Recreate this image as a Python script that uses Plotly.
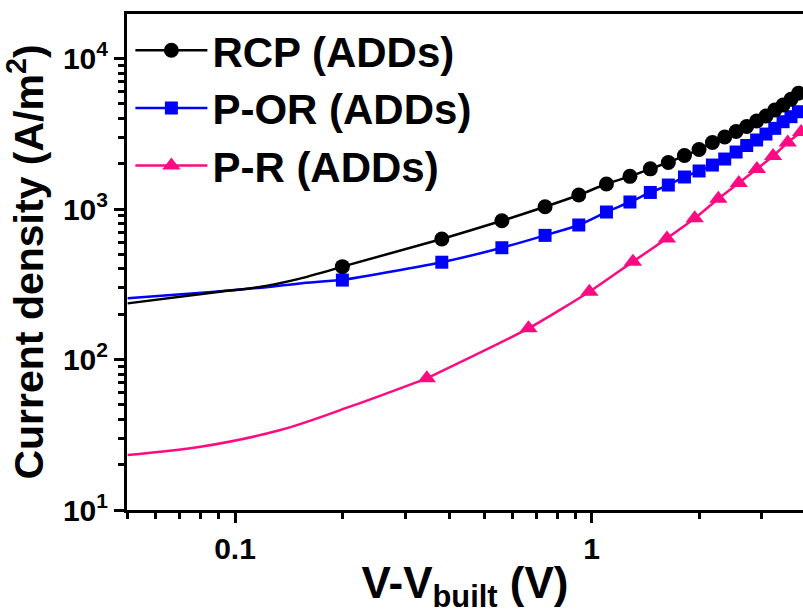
import plotly.graph_objects as go

# ---- data ----
rcp_lead_x = [0.05, 0.086, 0.116, 0.150, 0.2]
rcp_lead_y = [236, 278, 302, 342, 414]
rcp_x = [0.2, 0.38, 0.56, 0.74, 0.92, 1.10, 1.28, 1.46, 1.64, 1.82, 2.00,
         2.18, 2.36, 2.54, 2.72, 2.90, 3.08, 3.26, 3.44, 3.62, 3.80]
rcp_y = [414, 632, 835, 1035, 1239, 1466, 1648, 1849, 2037, 2265, 2484,
         2767, 3007, 3272, 3532, 3843, 4150, 4548, 4911, 5357, 5871]

por_lead_x = [0.05, 0.086, 0.116, 0.150, 0.2]
por_lead_y = [255, 281, 299, 319, 337]
por_x = rcp_x
por_y = [337, 443, 553, 668, 783, 955, 1113, 1288, 1443, 1632, 1789,
         1959, 2148, 2391, 2643, 2874, 3148, 3435, 3802, 4105, 4430]

pr_lead_x = [0.05, 0.08, 0.134, 0.21, 0.345]
pr_lead_y = [23.2, 26.3, 34.0, 48.6, 75]
pr_x = [0.345, 0.665, 0.985, 1.305, 1.625, 1.945, 2.265, 2.585, 2.905,
        3.225, 3.545, 3.865]
pr_y = [75, 161, 282, 447, 638, 867, 1170, 1489, 1845, 2249, 2767, 3250]

series_names = ["RCP (ADDs)", "P-OR (ADDs)", "P-R (ADDs)"]

x_major = [0.1, 1]
x_major_text = ["0.1", "1"]
x_minor = [0.05, 0.06, 0.07, 0.08, 0.09, 0.2, 0.3, 0.4, 0.5, 0.6, 0.7, 0.8, 0.9, 2, 3]
y_major = [10, 100, 1000, 10000]
y_major_text = ["10<sup>1</sup>", "10<sup>2</sup>", "10<sup>3</sup>", "10<sup>4</sup>"]
y_minor = [m * d for d in (10, 100, 1000) for m in range(2, 10)]

BLACK = "#000000"
BLUE = "#0000FF"
PINK = "#FF0A80"
FONT = "Liberation Sans, Arial, sans-serif"

fig = go.Figure()

specs = [
    (pr_lead_x, pr_lead_y, pr_x, pr_y, PINK, "triangle-up", 16, series_names[2], 3),
    (por_lead_x, por_lead_y, por_x, por_y, BLUE, "square", 13, series_names[1], 2),
    (rcp_lead_x, rcp_lead_y, rcp_x, rcp_y, BLACK, "circle", 15, series_names[0], 1),
]
for lx, ly, mx, my, col, sym, sz, name, rank in specs:
    fig.add_trace(go.Scatter(x=lx, y=ly, mode="lines",
                             line=dict(color=col, width=2.5, shape="spline", smoothing=1),
                             showlegend=False, hoverinfo="skip"))
    fig.add_trace(go.Scatter(x=mx, y=my, mode="lines+markers", name=name, legendrank=rank,
                             line=dict(color=col, width=2.5, shape="spline", smoothing=0.6),
                             marker=dict(symbol=sym, size=sz, color=col)))

axis_common = dict(
    type="log", showgrid=False, zeroline=False, showline=True,
    linecolor="black", linewidth=3, ticks="outside", ticklen=10, tickwidth=2.5,
    tickcolor="black",
    tickfont=dict(family=FONT, size=30, color="black", weight="bold"),
)

fig.update_layout(
    width=803, height=614,
    margin=dict(l=127, r=0, t=14, b=104),
    paper_bgcolor="white", plot_bgcolor="white",
    font=dict(family=FONT, color="black", weight="bold"),
    xaxis=dict(
        **axis_common, range=[-1.3028, 0.5924], mirror=True,
        tickmode="array", tickvals=x_major, ticktext=x_major_text,
        minor=dict(tickmode="array", tickvals=x_minor, ticks="outside", ticklen=6,
                   tickwidth=2.5, tickcolor="black", showgrid=False),
        title=dict(text="V-V<sub>built</sub> (V)",
                   font=dict(family=FONT, size=44, color="black", weight="bold"),
                   standoff=10),
    ),
    yaxis=dict(
        **axis_common, range=[1, 4.2957], mirror=False,
        tickmode="array", tickvals=y_major, ticktext=y_major_text,
        minor=dict(tickmode="array", tickvals=y_minor, ticks="outside", ticklen=6,
                   tickwidth=2.5, tickcolor="black", showgrid=False),
        title=dict(text="Current density (A/m<sup>2</sup>)",
                   font=dict(family=FONT, size=41, color="black", weight="bold"),
                   standoff=8),
    ),
    legend=dict(
        x=0.005, y=0.995, xanchor="left", yanchor="top",
        bgcolor="rgba(0,0,0,0)", borderwidth=0,
        font=dict(family=FONT, size=42, color="black", weight="bold"),
        tracegroupgap=0, itemsizing="trace", itemwidth=72,
    ),
    showlegend=True,
)

fig.write_html("out.html")
